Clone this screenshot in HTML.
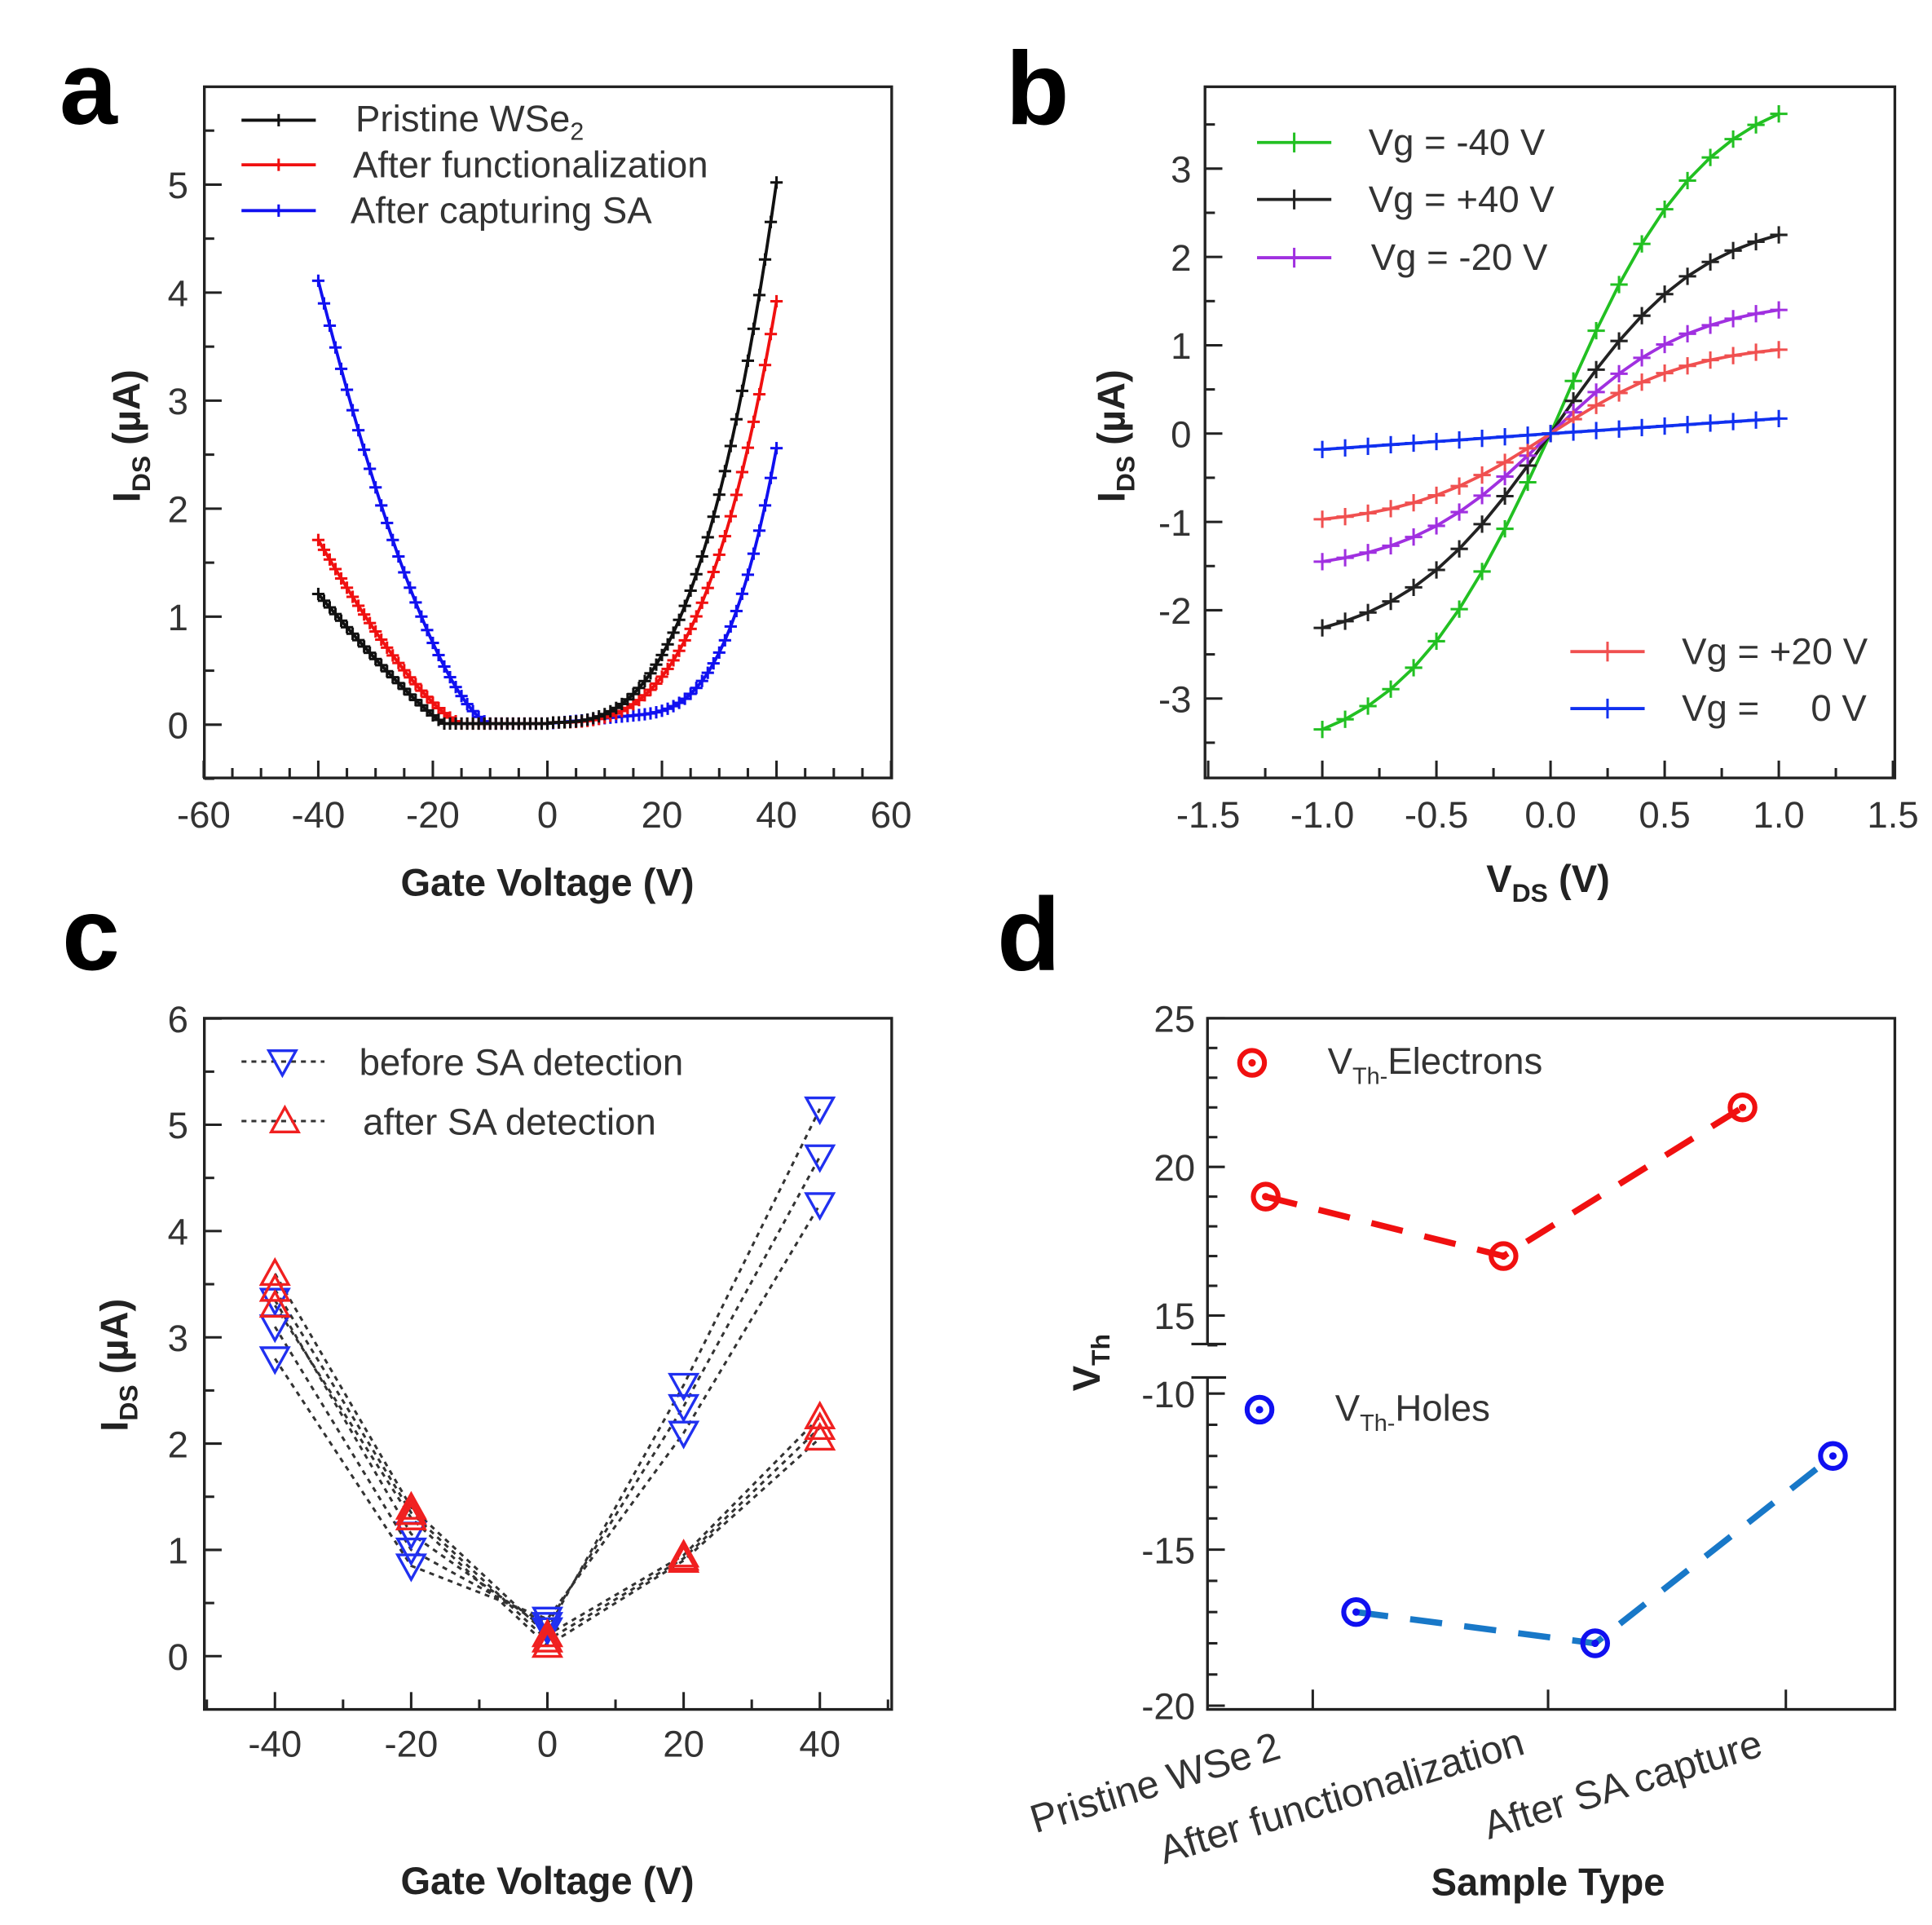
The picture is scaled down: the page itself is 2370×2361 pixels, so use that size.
<!DOCTYPE html>
<html><head><meta charset="utf-8"><style>
html,body{margin:0;padding:0;background:#fff;}
svg{display:block;}
text{font-family:"Liberation Sans",sans-serif;fill:#333;}
.t{font-size:30px;}
.c{font-size:32px;}
.b{font-weight:bold;fill:#222;font-size:31px;}
.L{font-weight:bold;fill:#000;font-size:84px;}
</style></head><body>
<svg id="s" width="2370" height="2361" viewBox="0 0 1560 1554" xmlns="http://www.w3.org/2000/svg">
<rect width="1560" height="1554" fill="#fff"/>
<g id="g"></g>
<text class="L" x="48" y="100">a</text>
<text class="L" x="812" y="100">b</text>
<text class="L" x="50" y="783">c</text>
<text class="L" x="805" y="783">d</text>
<text class="b" x="442" y="723" text-anchor="middle">Gate Voltage (V)</text>
<text class="b" transform="translate(113,352) rotate(-90)" text-anchor="middle">I<tspan font-size="21" dy="8">DS</tspan><tspan dy="-8"> (µA)</tspan></text>
<text class="b" x="1250" y="720" text-anchor="middle">V<tspan font-size="21" dy="8">DS</tspan><tspan dy="-8"> (V)</tspan></text>
<text class="b" transform="translate(908,352) rotate(-90)" text-anchor="middle">I<tspan font-size="21" dy="8">DS</tspan><tspan dy="-8"> (µA)</tspan></text>
<text class="b" x="442" y="1529" text-anchor="middle">Gate Voltage (V)</text>
<text class="b" transform="translate(103,1102) rotate(-90)" text-anchor="middle">I<tspan font-size="21" dy="8">DS</tspan><tspan dy="-8"> (µA)</tspan></text>
<text class="b" x="1250" y="1530" text-anchor="middle">Sample Type</text>
<text class="b" transform="translate(888,1100) rotate(-90)" text-anchor="middle">V<tspan font-size="21" dy="8">Th</tspan></text>
<text class="t" x="287" y="106">Pristine WSe<tspan font-size="20" dy="7">2</tspan></text>
<text class="t" x="285" y="143">After functionalization</text>
<text class="t" x="283" y="180">After capturing  SA</text>
<text class="t" x="1105" y="125">Vg = -40 V</text>
<text class="t" x="1105" y="171">Vg = +40 V</text>
<text class="t" x="1107" y="218">Vg = -20 V</text>
<text class="t" x="1358" y="536">Vg = +20 V</text>
<text class="t" x="1358" y="582" xml:space="preserve">Vg =     0 V</text>
<text class="t" x="290" y="868">before SA detection</text>
<text class="t" x="293" y="916">after SA detection</text>
<text class="t" x="1072" y="867">V<tspan font-size="19" dy="8">Th-</tspan><tspan dy="-8">Electrons</tspan></text>
<text class="t" x="1078" y="1147">V<tspan font-size="19" dy="8">Th-</tspan><tspan dy="-8">Holes</tspan></text>
<text class="c" transform="translate(836,1480) rotate(-17)">Pristine WSe<tspan dx="6">2</tspan></text>
<text class="c" transform="translate(940,1505) rotate(-17)">After functionalization</text>
<text class="c" transform="translate(1202,1485) rotate(-17)">After SA capture</text>
</svg>
<script>
const NS="http://www.w3.org/2000/svg",G=document.getElementById('g');
function el(t,a,txt){const e=document.createElementNS(NS,t);for(const k in a)e.setAttribute(k,a[k]);if(txt!==undefined)e.textContent=txt;G.appendChild(e);return e;}
function line(x1,y1,x2,y2,c,w,extra){return el('line',Object.assign({x1,y1,x2,y2,stroke:c||'#222','stroke-width':w||2},extra||{}));}
function txt(x,y,s,anchor){return el('text',{x,y,class:'t','text-anchor':anchor||'middle'},s);}
function plus(x,y,c,s){line(x-s,y,x+s,y,c,2);line(x,y-s,x,y+s,c,2);}
function poly(pts,c,w,extra){return el('polyline',Object.assign({points:pts.map(p=>p.join(',')).join(' '),fill:'none',stroke:c,'stroke-width':w},extra||{}));}
function frame(x0,y0,x1,y1){el('rect',{x:x0,y:y0,width:x1-x0,height:y1-y0,fill:'none',stroke:'#222','stroke-width':2.2});}

{const X=v=>442+v*4.625,Y=v=>585-v*87.2;
frame(165,70,720,628);
for(let v=-60;v<=60;v+=5){const maj=v%20==0;line(X(v),628,X(v),628-(maj?14:8));}
for(let v=-60;v<=60;v+=20)txt(X(v),668,String(v));
for(let v=-0.5;v<=5.5;v+=0.5){const maj=Math.abs(v-Math.round(v))<1e-6;line(165,Y(v),165+(maj?14:8),Y(v));}
for(let v=0;v<=5;v++)txt(152,Y(v)+11,String(v),'end');
const sm=V=>0.02+0.0015*(V+20);
const fb=V=>V<-18?1.2*Math.pow((-18-V)/22,1.15)+0.01:(V>0?5.0*Math.pow(V/40,3)+0.02:0.01);
const fr=V=>V<-15?1.7*Math.pow((-15-V)/25,1.35)+0.01:(V>0?3.9*Math.pow(V/40,3.2)+0.02:0.01);
const fbl=V=>V<-10?4.1*Math.pow((-10-V)/30,1.55)+0.01:(V>0?0.005*V+(V>15?2.35*Math.pow((V-15)/25,3):0)+0.01:0.01);
[[fbl,'#1010f0'],[fr,'#f01010'],[fb,'#111']].forEach(([f,c])=>{const p=[];for(let v=-40;v<=40;v++)p.push([X(v),Y(f(v))]);poly(p,c,2.5);p.forEach(q=>plus(q[0],q[1],c,5));});
[['#111',97],['#f01010',133],['#1010f0',170]].forEach(([c,y])=>{line(195,y,255,y,c,2.5);plus(225,y,c,5);});
}
{const X=v=>1252+v*184.3,Y=v=>350-v*71.3;
frame(973,70,1530,628);
for(let k=-6;k<=6;k++){const v=k*0.25;const maj=k%2==0;line(X(v),628,X(v),628-(maj?14:8));}
['-1.5','-1.0','-0.5','0.0','0.5','1.0','1.5'].forEach(s=>txt(X(parseFloat(s)),668,s));
for(let v=-3.5;v<=3.5;v+=0.5){const maj=Math.abs(v-Math.round(v))<1e-6;line(973,Y(v),973+(maj?14:8),Y(v));}
for(let v=-3;v<=3;v++)txt(962,Y(v)+11,String(v),'end');
const sat=(ap,an,b)=>V=>V>=0?ap*Math.tanh(b*V)/Math.tanh(b):an*Math.tanh(b*V)/Math.tanh(b);
const S=[[sat(3.62,3.35,1.5),'#22c022'],[sat(2.25,2.2,1.5),'#222'],[sat(1.4,1.45,1.6),'#a030e0'],[sat(0.95,0.97,1.6),'#f05050'],[V=>V>=0?0.17*V:0.18*V,'#1030f0']];
S.forEach(([f,c])=>{const p=[];for(let k=-10;k<=10;k++){const v=k/10;p.push([X(v),Y(f(v))]);}poly(p,c,2.5);p.forEach(q=>plus(q[0],q[1],c,7));});
[['#22c022',1045,115],['#222',1045,161],['#a030e0',1045,208],['#f05050',1298,526],['#1030f0',1298,572]].forEach(([c,x,y])=>{line(x-30,y,x+30,y,c,2.5);plus(x,y,c,8);});
}
{const X=v=>442+v*5.5,Y=v=>1337-v*85.8;
frame(165,822,720,1380);
for(let v=-50;v<=50;v+=10){const maj=v%20==0;line(X(v),1380,X(v),1380-(maj?14:8));}
for(let v=-40;v<=40;v+=20)txt(X(v),1418,String(v));
for(let v=0;v<=6;v+=0.5){const maj=Math.abs(v-Math.round(v))<1e-6;line(165,Y(v),165+(maj?14:8),Y(v));}
for(let v=0;v<=6;v++)txt(152,Y(v)+11,String(v),'end');
const xs=[-40,-20,0,20,40];
const blue=[[2.8,0.85,0.35,2.1,4.25],[3.1,1.0,0.3,2.35,4.7],[3.35,1.15,0.25,2.55,5.15]];
const red=[[3.3,1.3,0.1,0.9,2.05],[3.45,1.35,0.15,0.92,2.15],[3.6,1.4,0.2,0.95,2.25]];
[...blue,...red].forEach(s=>poly(xs.map((x,i)=>[X(x),Y(s[i])]),'#333',2,{'stroke-dasharray':'4,4'}));
const tri=(x,y,c,down)=>{const s=11;const pts=down?[[x-s,y-s*0.8],[x+s,y-s*0.8],[x,y+s*1.0]]:[[x-s,y+s*0.8],[x+s,y+s*0.8],[x,y-s*1.0]];el('polygon',{points:pts.map(p=>p.join(',')).join(' '),fill:'none',stroke:c,'stroke-width':2.2});};
blue.forEach(s=>xs.forEach((x,i)=>tri(X(x),Y(s[i]),'#2030f0',true)));
red.forEach(s=>xs.forEach((x,i)=>tri(X(x),Y(s[i]),'#f02020',false)));
line(195,857,262,857,'#333',2,{'stroke-dasharray':'4,4'});tri(228,857,'#2030f0',true);
line(195,905,262,905,'#333',2,{'stroke-dasharray':'4,4'});tri(230,905,'#f02020',false);
}
{const YU=v=>822+(25-v)*24,YL=v=>1125+(-10-v)*25.2;
el('path',{d:'M975,1085 L975,822 L1530,822 L1530,1380 L975,1380 L975,1112',fill:'none',stroke:'#222','stroke-width':2.2});
line(962,1085,990,1085);line(962,1112,990,1112);
[1060,1250,1442].forEach(x=>line(x,1380,x,1364));
for(let v=14;v<=25;v++){const maj=v%5==0;line(975,YU(v),975+(maj?14:8),YU(v));}
for(let v=-20;v<=-10;v++){const maj=v%5==0;line(975,YL(v),975+(maj?14:8),YL(v));}
[25,20,15].forEach(v=>txt(965,YU(v)+11,String(v),'end'));
[-10,-15,-20].forEach(v=>txt(965,YL(v)+11,String(v),'end'));
const E=[[1022,YU(19)],[1214,YU(17)],[1407,YU(22)]],H=[[1095,YL(-17)],[1288,YL(-18)],[1480,YL(-12)]];
poly(E,'#f01010',5,{'stroke-dasharray':'26,18'});poly(H,'#1878c8',5,{'stroke-dasharray':'26,18'});
const circ=(x,y,c)=>{el('circle',{cx:x,cy:y,r:10,fill:'none',stroke:c,'stroke-width':4});el('circle',{cx:x,cy:y,r:3,fill:c});};
E.forEach(p=>circ(p[0],p[1],'#f01010'));H.forEach(p=>circ(p[0],p[1],'#1010f0'));
circ(1011,858,'#f01010');circ(1017,1138,'#1010f0');
}
</script>
</body></html>
